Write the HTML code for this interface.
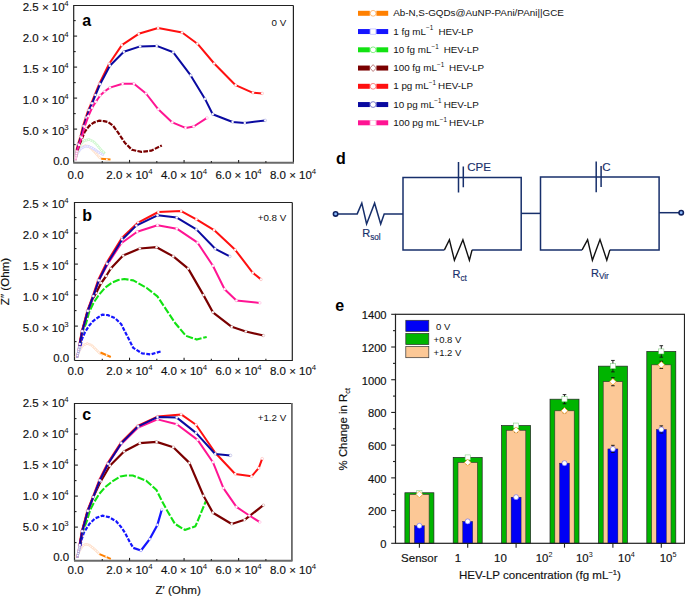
<!DOCTYPE html>
<html><head><meta charset="utf-8"><style>
html,body{margin:0;padding:0;background:#fff;}
svg{display:block;}
text{font-family:"Liberation Sans", sans-serif;stroke-width:0.16px;}
</style></head><body>
<svg width="685" height="596" viewBox="0 0 685 596">
<rect width="685" height="596" fill="#fff"/>
<path d="M73.7 162.7V5.5H293.4" fill="none" stroke="#222" stroke-width="1.2"/>
<path d="M293.4 5.5V162.7" fill="none" stroke="#222" stroke-width="1.2"/>
<path d="M73.2 162.7H294.0" fill="none" stroke="#6a6a6a" stroke-width="1.9"/>
<line x1="73.7" y1="144.60" x2="75.7" y2="144.60" stroke="#222" stroke-width="1.1"/>
<line x1="73.7" y1="129.10" x2="77.10000000000001" y2="129.10" stroke="#222" stroke-width="1.1"/>
<line x1="73.7" y1="113.60" x2="75.7" y2="113.60" stroke="#222" stroke-width="1.1"/>
<line x1="73.7" y1="98.10" x2="77.10000000000001" y2="98.10" stroke="#222" stroke-width="1.1"/>
<line x1="73.7" y1="82.60" x2="75.7" y2="82.60" stroke="#222" stroke-width="1.1"/>
<line x1="73.7" y1="67.10" x2="77.10000000000001" y2="67.10" stroke="#222" stroke-width="1.1"/>
<line x1="73.7" y1="51.60" x2="75.7" y2="51.60" stroke="#222" stroke-width="1.1"/>
<line x1="73.7" y1="36.10" x2="77.10000000000001" y2="36.10" stroke="#222" stroke-width="1.1"/>
<line x1="73.7" y1="20.60" x2="75.7" y2="20.60" stroke="#222" stroke-width="1.1"/>
<line x1="102.27" y1="162.7" x2="102.27" y2="160.89999999999998" stroke="#222" stroke-width="1.1"/>
<line x1="129.54" y1="162.7" x2="129.54" y2="159.89999999999998" stroke="#222" stroke-width="1.1"/>
<line x1="156.81" y1="162.7" x2="156.81" y2="160.89999999999998" stroke="#222" stroke-width="1.1"/>
<line x1="184.08" y1="162.7" x2="184.08" y2="159.89999999999998" stroke="#222" stroke-width="1.1"/>
<line x1="211.35" y1="162.7" x2="211.35" y2="160.89999999999998" stroke="#222" stroke-width="1.1"/>
<line x1="238.62" y1="162.7" x2="238.62" y2="159.89999999999998" stroke="#222" stroke-width="1.1"/>
<line x1="265.89" y1="162.7" x2="265.89" y2="160.89999999999998" stroke="#222" stroke-width="1.1"/>
<text x="64.6" y="10.70" font-size="11.5" text-anchor="end" fill="#111" stroke="#111">2.5 × 10</text><text x="64.2" y="5.80" font-size="7.8" fill="#111">4</text>
<text x="64.6" y="41.70" font-size="11.5" text-anchor="end" fill="#111" stroke="#111">2.0 × 10</text><text x="64.2" y="36.80" font-size="7.8" fill="#111">4</text>
<text x="64.6" y="72.70" font-size="11.5" text-anchor="end" fill="#111" stroke="#111">1.5 × 10</text><text x="64.2" y="67.80" font-size="7.8" fill="#111">4</text>
<text x="64.6" y="103.70" font-size="11.5" text-anchor="end" fill="#111" stroke="#111">1.0 × 10</text><text x="64.2" y="98.80" font-size="7.8" fill="#111">4</text>
<text x="64.6" y="134.70" font-size="11.5" text-anchor="end" fill="#111" stroke="#111">5.0 × 10</text><text x="64.2" y="129.80" font-size="7.8" fill="#111">3</text>
<text x="69.2" y="164.90" font-size="11.5" text-anchor="end" fill="#111" stroke="#111">0.0</text>
<text x="75.6" y="178.50" font-size="11.5" text-anchor="middle" fill="#111" stroke="#111">0.0</text>
<text x="106.34" y="178.50" font-size="11.5" fill="#111" stroke="#111">2.0 × 10</text><text x="148.24" y="173.50" font-size="7.8" fill="#111">4</text>
<text x="160.88" y="178.50" font-size="11.5" fill="#111" stroke="#111">4.0 × 10</text><text x="202.78" y="173.50" font-size="7.8" fill="#111">4</text>
<text x="215.42" y="178.50" font-size="11.5" fill="#111" stroke="#111">6.0 × 10</text><text x="257.32" y="173.50" font-size="7.8" fill="#111">4</text>
<text x="269.96" y="178.50" font-size="11.5" fill="#111" stroke="#111">8.0 × 10</text><text x="311.86" y="173.50" font-size="7.8" fill="#111">4</text>
<text x="82.2" y="25.60" font-size="16" font-weight="bold" fill="#000">a</text>
<text x="286.3" y="25.90" font-size="9.8" text-anchor="end" fill="#111">0 V</text>
<path d="M74.5 360.5V202.5H292.3" fill="none" stroke="#222" stroke-width="1.2"/>
<path d="M292.3 202.5V360.5H74.5" fill="none" stroke="#222" stroke-width="1.2"/>
<line x1="74.5" y1="341.60" x2="76.5" y2="341.60" stroke="#222" stroke-width="1.1"/>
<line x1="74.5" y1="326.10" x2="77.9" y2="326.10" stroke="#222" stroke-width="1.1"/>
<line x1="74.5" y1="310.60" x2="76.5" y2="310.60" stroke="#222" stroke-width="1.1"/>
<line x1="74.5" y1="295.10" x2="77.9" y2="295.10" stroke="#222" stroke-width="1.1"/>
<line x1="74.5" y1="279.60" x2="76.5" y2="279.60" stroke="#222" stroke-width="1.1"/>
<line x1="74.5" y1="264.10" x2="77.9" y2="264.10" stroke="#222" stroke-width="1.1"/>
<line x1="74.5" y1="248.60" x2="76.5" y2="248.60" stroke="#222" stroke-width="1.1"/>
<line x1="74.5" y1="233.10" x2="77.9" y2="233.10" stroke="#222" stroke-width="1.1"/>
<line x1="74.5" y1="217.60" x2="76.5" y2="217.60" stroke="#222" stroke-width="1.1"/>
<line x1="102.27" y1="360.5" x2="102.27" y2="358.7" stroke="#222" stroke-width="1.1"/>
<line x1="129.54" y1="360.5" x2="129.54" y2="357.7" stroke="#222" stroke-width="1.1"/>
<line x1="156.81" y1="360.5" x2="156.81" y2="358.7" stroke="#222" stroke-width="1.1"/>
<line x1="184.08" y1="360.5" x2="184.08" y2="357.7" stroke="#222" stroke-width="1.1"/>
<line x1="211.35" y1="360.5" x2="211.35" y2="358.7" stroke="#222" stroke-width="1.1"/>
<line x1="238.62" y1="360.5" x2="238.62" y2="357.7" stroke="#222" stroke-width="1.1"/>
<line x1="265.89" y1="360.5" x2="265.89" y2="358.7" stroke="#222" stroke-width="1.1"/>
<text x="64.6" y="208.10" font-size="11.5" text-anchor="end" fill="#111" stroke="#111">2.5 × 10</text><text x="64.2" y="203.20" font-size="7.8" fill="#111">4</text>
<text x="64.6" y="239.10" font-size="11.5" text-anchor="end" fill="#111" stroke="#111">2.0 × 10</text><text x="64.2" y="234.20" font-size="7.8" fill="#111">4</text>
<text x="64.6" y="270.10" font-size="11.5" text-anchor="end" fill="#111" stroke="#111">1.5 × 10</text><text x="64.2" y="265.20" font-size="7.8" fill="#111">4</text>
<text x="64.6" y="301.10" font-size="11.5" text-anchor="end" fill="#111" stroke="#111">1.0 × 10</text><text x="64.2" y="296.20" font-size="7.8" fill="#111">4</text>
<text x="64.6" y="332.10" font-size="11.5" text-anchor="end" fill="#111" stroke="#111">5.0 × 10</text><text x="64.2" y="327.20" font-size="7.8" fill="#111">3</text>
<text x="69.2" y="362.30" font-size="11.5" text-anchor="end" fill="#111" stroke="#111">0.0</text>
<text x="75.6" y="375.10" font-size="11.5" text-anchor="middle" fill="#111" stroke="#111">0.0</text>
<text x="106.34" y="375.10" font-size="11.5" fill="#111" stroke="#111">2.0 × 10</text><text x="148.24" y="370.10" font-size="7.8" fill="#111">4</text>
<text x="160.88" y="375.10" font-size="11.5" fill="#111" stroke="#111">4.0 × 10</text><text x="202.78" y="370.10" font-size="7.8" fill="#111">4</text>
<text x="215.42" y="375.10" font-size="11.5" fill="#111" stroke="#111">6.0 × 10</text><text x="257.32" y="370.10" font-size="7.8" fill="#111">4</text>
<text x="269.96" y="375.10" font-size="11.5" fill="#111" stroke="#111">8.0 × 10</text><text x="311.86" y="370.10" font-size="7.8" fill="#111">4</text>
<text x="82.2" y="220.70" font-size="16" font-weight="bold" fill="#000">b</text>
<text x="286.3" y="221.00" font-size="9.8" text-anchor="end" fill="#111">+0.8 V</text>
<path d="M74.5 560.7V403.5H291.9" fill="none" stroke="#222" stroke-width="1.2"/>
<path d="M291.9 402.9V560.7" fill="none" stroke="#6a6a6a" stroke-width="1.8"/>
<path d="M74.0 560.7H292.5" fill="none" stroke="#6a6a6a" stroke-width="1.9"/>
<line x1="74.5" y1="542.60" x2="76.5" y2="542.60" stroke="#222" stroke-width="1.1"/>
<line x1="74.5" y1="527.10" x2="77.9" y2="527.10" stroke="#222" stroke-width="1.1"/>
<line x1="74.5" y1="511.60" x2="76.5" y2="511.60" stroke="#222" stroke-width="1.1"/>
<line x1="74.5" y1="496.10" x2="77.9" y2="496.10" stroke="#222" stroke-width="1.1"/>
<line x1="74.5" y1="480.60" x2="76.5" y2="480.60" stroke="#222" stroke-width="1.1"/>
<line x1="74.5" y1="465.10" x2="77.9" y2="465.10" stroke="#222" stroke-width="1.1"/>
<line x1="74.5" y1="449.60" x2="76.5" y2="449.60" stroke="#222" stroke-width="1.1"/>
<line x1="74.5" y1="434.10" x2="77.9" y2="434.10" stroke="#222" stroke-width="1.1"/>
<line x1="74.5" y1="418.60" x2="76.5" y2="418.60" stroke="#222" stroke-width="1.1"/>
<line x1="102.27" y1="560.7" x2="102.27" y2="558.9000000000001" stroke="#222" stroke-width="1.1"/>
<line x1="129.54" y1="560.7" x2="129.54" y2="557.9000000000001" stroke="#222" stroke-width="1.1"/>
<line x1="156.81" y1="560.7" x2="156.81" y2="558.9000000000001" stroke="#222" stroke-width="1.1"/>
<line x1="184.08" y1="560.7" x2="184.08" y2="557.9000000000001" stroke="#222" stroke-width="1.1"/>
<line x1="211.35" y1="560.7" x2="211.35" y2="558.9000000000001" stroke="#222" stroke-width="1.1"/>
<line x1="238.62" y1="560.7" x2="238.62" y2="557.9000000000001" stroke="#222" stroke-width="1.1"/>
<line x1="265.89" y1="560.7" x2="265.89" y2="558.9000000000001" stroke="#222" stroke-width="1.1"/>
<text x="64.6" y="407.10" font-size="11.5" text-anchor="end" fill="#111" stroke="#111">2.5 × 10</text><text x="64.2" y="402.20" font-size="7.8" fill="#111">4</text>
<text x="64.6" y="438.10" font-size="11.5" text-anchor="end" fill="#111" stroke="#111">2.0 × 10</text><text x="64.2" y="433.20" font-size="7.8" fill="#111">4</text>
<text x="64.6" y="469.10" font-size="11.5" text-anchor="end" fill="#111" stroke="#111">1.5 × 10</text><text x="64.2" y="464.20" font-size="7.8" fill="#111">4</text>
<text x="64.6" y="500.10" font-size="11.5" text-anchor="end" fill="#111" stroke="#111">1.0 × 10</text><text x="64.2" y="495.20" font-size="7.8" fill="#111">4</text>
<text x="64.6" y="531.10" font-size="11.5" text-anchor="end" fill="#111" stroke="#111">5.0 × 10</text><text x="64.2" y="526.20" font-size="7.8" fill="#111">3</text>
<text x="69.2" y="561.30" font-size="11.5" text-anchor="end" fill="#111" stroke="#111">0.0</text>
<text x="75.6" y="573.90" font-size="11.5" text-anchor="middle" fill="#111" stroke="#111">0.0</text>
<text x="106.34" y="573.90" font-size="11.5" fill="#111" stroke="#111">2.0 × 10</text><text x="148.24" y="568.90" font-size="7.8" fill="#111">4</text>
<text x="160.88" y="573.90" font-size="11.5" fill="#111" stroke="#111">4.0 × 10</text><text x="202.78" y="568.90" font-size="7.8" fill="#111">4</text>
<text x="215.42" y="573.90" font-size="11.5" fill="#111" stroke="#111">6.0 × 10</text><text x="257.32" y="568.90" font-size="7.8" fill="#111">4</text>
<text x="269.96" y="573.90" font-size="11.5" fill="#111" stroke="#111">8.0 × 10</text><text x="311.86" y="568.90" font-size="7.8" fill="#111">4</text>
<text x="82.2" y="420.40" font-size="16" font-weight="bold" fill="#000">c</text>
<text x="286.3" y="420.70" font-size="9.8" text-anchor="end" fill="#111">+1.2 V</text>
<text transform="translate(8.9,281.5) rotate(-90)" font-size="11.6" text-anchor="middle" fill="#111" stroke="#111">Z″ (Ohm)</text>
<text x="178.2" y="594" font-size="11.6" text-anchor="middle" fill="#111" stroke="#111">Z′ (Ohm)</text>
<path d="M75.0 160.0 L76.5 155.0 L78.5 150.5 L81.5 147.3 L85.3 145.6 L88.5 146.3 L92.0 149.2 L96.0 153.5 L99.0 157.0 L101.2 158.8" fill="none" stroke="#ffe3d0" stroke-width="2.3" stroke-linejoin="round" opacity="1.0"/>
<circle cx="75.6" cy="158.0" r="0.95" fill="#fff" stroke="#ffd6ba" stroke-width="0.5"/>
<circle cx="76.2" cy="156.0" r="0.95" fill="#fff" stroke="#ffd6ba" stroke-width="0.5"/>
<circle cx="76.9" cy="154.0" r="0.95" fill="#fff" stroke="#ffd6ba" stroke-width="0.5"/>
<circle cx="77.8" cy="152.1" r="0.95" fill="#fff" stroke="#ffd6ba" stroke-width="0.5"/>
<circle cx="78.7" cy="150.2" r="0.95" fill="#fff" stroke="#ffd6ba" stroke-width="0.5"/>
<circle cx="80.2" cy="148.7" r="0.95" fill="#fff" stroke="#ffd6ba" stroke-width="0.5"/>
<circle cx="81.7" cy="147.2" r="0.95" fill="#fff" stroke="#ffd6ba" stroke-width="0.5"/>
<circle cx="83.6" cy="146.4" r="0.95" fill="#fff" stroke="#ffd6ba" stroke-width="0.5"/>
<circle cx="85.5" cy="145.6" r="0.95" fill="#fff" stroke="#ffd6ba" stroke-width="0.5"/>
<circle cx="87.6" cy="146.1" r="0.95" fill="#fff" stroke="#ffd6ba" stroke-width="0.5"/>
<circle cx="89.4" cy="147.0" r="0.95" fill="#fff" stroke="#ffd6ba" stroke-width="0.5"/>
<circle cx="91.0" cy="148.4" r="0.95" fill="#fff" stroke="#ffd6ba" stroke-width="0.5"/>
<circle cx="92.5" cy="149.8" r="0.95" fill="#fff" stroke="#ffd6ba" stroke-width="0.5"/>
<circle cx="94.0" cy="151.3" r="0.95" fill="#fff" stroke="#ffd6ba" stroke-width="0.5"/>
<circle cx="95.4" cy="152.9" r="0.95" fill="#fff" stroke="#ffd6ba" stroke-width="0.5"/>
<circle cx="96.8" cy="154.4" r="0.95" fill="#fff" stroke="#ffd6ba" stroke-width="0.5"/>
<circle cx="98.2" cy="156.0" r="0.95" fill="#fff" stroke="#ffd6ba" stroke-width="0.5"/>
<circle cx="99.6" cy="157.5" r="0.95" fill="#fff" stroke="#ffd6ba" stroke-width="0.5"/>
<path d="M75.0 160.0 L77.5 153.0 L81.0 148.5 L84.5 146.6 L87.5 146.2 L91.0 147.3 L95.0 149.8 L99.5 152.8 L103.8 155.3" fill="none" stroke="#d4d4ff" stroke-width="2.4" stroke-linejoin="round" opacity="1.0"/>
<circle cx="75.7" cy="157.9" r="0.9" fill="#fff" stroke="#d0d0ff" stroke-width="0.5"/>
<circle cx="76.5" cy="155.9" r="0.9" fill="#fff" stroke="#d0d0ff" stroke-width="0.5"/>
<circle cx="77.2" cy="153.8" r="0.9" fill="#fff" stroke="#d0d0ff" stroke-width="0.5"/>
<circle cx="78.3" cy="151.9" r="0.9" fill="#fff" stroke="#d0d0ff" stroke-width="0.5"/>
<circle cx="79.7" cy="150.2" r="0.9" fill="#fff" stroke="#d0d0ff" stroke-width="0.5"/>
<circle cx="81.1" cy="148.5" r="0.9" fill="#fff" stroke="#d0d0ff" stroke-width="0.5"/>
<circle cx="83.0" cy="147.4" r="0.9" fill="#fff" stroke="#d0d0ff" stroke-width="0.5"/>
<circle cx="85.0" cy="146.5" r="0.9" fill="#fff" stroke="#d0d0ff" stroke-width="0.5"/>
<circle cx="87.2" cy="146.2" r="0.9" fill="#fff" stroke="#d0d0ff" stroke-width="0.5"/>
<circle cx="89.3" cy="146.8" r="0.9" fill="#fff" stroke="#d0d0ff" stroke-width="0.5"/>
<circle cx="91.3" cy="147.5" r="0.9" fill="#fff" stroke="#d0d0ff" stroke-width="0.5"/>
<circle cx="93.2" cy="148.7" r="0.9" fill="#fff" stroke="#d0d0ff" stroke-width="0.5"/>
<circle cx="95.1" cy="149.8" r="0.9" fill="#fff" stroke="#d0d0ff" stroke-width="0.5"/>
<circle cx="96.9" cy="151.1" r="0.9" fill="#fff" stroke="#d0d0ff" stroke-width="0.5"/>
<circle cx="98.7" cy="152.3" r="0.9" fill="#fff" stroke="#d0d0ff" stroke-width="0.5"/>
<circle cx="100.6" cy="153.4" r="0.9" fill="#fff" stroke="#d0d0ff" stroke-width="0.5"/>
<circle cx="102.5" cy="154.5" r="0.9" fill="#fff" stroke="#d0d0ff" stroke-width="0.5"/>
<path d="M75.0 160.0 L77.5 151.0 L80.5 144.5 L84.5 140.5 L89.3 139.5 L93.5 141.5 L97.5 145.5 L101.5 150.5 L105.0 153.4" fill="none" stroke="#c8f7c8" stroke-width="2.4" stroke-linejoin="round" opacity="1.0"/>
<circle cx="75.6" cy="157.9" r="0.9" fill="#fff" stroke="#c8f5c8" stroke-width="0.5"/>
<circle cx="76.2" cy="155.8" r="0.9" fill="#fff" stroke="#c8f5c8" stroke-width="0.5"/>
<circle cx="76.8" cy="153.6" r="0.9" fill="#fff" stroke="#c8f5c8" stroke-width="0.5"/>
<circle cx="77.4" cy="151.5" r="0.9" fill="#fff" stroke="#c8f5c8" stroke-width="0.5"/>
<circle cx="78.2" cy="149.5" r="0.9" fill="#fff" stroke="#c8f5c8" stroke-width="0.5"/>
<circle cx="79.1" cy="147.5" r="0.9" fill="#fff" stroke="#c8f5c8" stroke-width="0.5"/>
<circle cx="80.0" cy="145.5" r="0.9" fill="#fff" stroke="#c8f5c8" stroke-width="0.5"/>
<circle cx="81.3" cy="143.7" r="0.9" fill="#fff" stroke="#c8f5c8" stroke-width="0.5"/>
<circle cx="82.8" cy="142.2" r="0.9" fill="#fff" stroke="#c8f5c8" stroke-width="0.5"/>
<circle cx="84.4" cy="140.6" r="0.9" fill="#fff" stroke="#c8f5c8" stroke-width="0.5"/>
<circle cx="86.5" cy="140.1" r="0.9" fill="#fff" stroke="#c8f5c8" stroke-width="0.5"/>
<circle cx="88.7" cy="139.6" r="0.9" fill="#fff" stroke="#c8f5c8" stroke-width="0.5"/>
<circle cx="90.7" cy="140.2" r="0.9" fill="#fff" stroke="#c8f5c8" stroke-width="0.5"/>
<circle cx="92.7" cy="141.1" r="0.9" fill="#fff" stroke="#c8f5c8" stroke-width="0.5"/>
<circle cx="94.4" cy="142.4" r="0.9" fill="#fff" stroke="#c8f5c8" stroke-width="0.5"/>
<circle cx="96.0" cy="144.0" r="0.9" fill="#fff" stroke="#c8f5c8" stroke-width="0.5"/>
<circle cx="97.5" cy="145.5" r="0.9" fill="#fff" stroke="#c8f5c8" stroke-width="0.5"/>
<circle cx="98.9" cy="147.2" r="0.9" fill="#fff" stroke="#c8f5c8" stroke-width="0.5"/>
<circle cx="100.3" cy="149.0" r="0.9" fill="#fff" stroke="#c8f5c8" stroke-width="0.5"/>
<circle cx="101.7" cy="150.6" r="0.9" fill="#fff" stroke="#c8f5c8" stroke-width="0.5"/>
<circle cx="103.4" cy="152.0" r="0.9" fill="#fff" stroke="#c8f5c8" stroke-width="0.5"/>
<path d="M75.6 160.1 L77.3 151.5 L77.7 150.1" fill="none" stroke="#cc9e9e" stroke-width="2.1"/>
<circle cx="76.0" cy="157.9" r="0.75" fill="#fff"/>
<circle cx="76.5" cy="155.8" r="0.75" fill="#fff"/>
<circle cx="76.9" cy="153.6" r="0.75" fill="#fff"/>
<circle cx="77.3" cy="151.5" r="0.75" fill="#fff"/>
<path d="M77.7 150.1 L79.5 144.5 L81.6 139.6 L84.6 132.0 L89.1 126.0 L93.7 122.6 L98.9 120.7 L103.9 121.1 L108.0 122.0 L113.0 125.6 L117.8 132.2 L124.8 142.7 L131.9 149.8 L141.5 151.9 L151.2 150.7 L161.8 145.4" fill="none" stroke="#7a0000" stroke-width="2.2" stroke-linejoin="round" stroke-dasharray="4.70 1.3" stroke-dashoffset="0" opacity="1.0"/>
<path d="M75.6 160.1 L76.0 152.0 L76.5 150.1" fill="none" stroke="#ffa4a4" stroke-width="2.1"/>
<circle cx="75.7" cy="157.9" r="0.75" fill="#fff"/>
<circle cx="75.8" cy="155.7" r="0.75" fill="#fff"/>
<circle cx="75.9" cy="153.5" r="0.75" fill="#fff"/>
<circle cx="76.2" cy="151.3" r="0.75" fill="#fff"/>
<path d="M76.5 150.1 L78.1 144.0 L80.5 136.6 L83.0 126.0 L85.7 117.7 L88.3 110.1 L91.3 103.3 L94.8 95.0 L99.5 83.5 L109.2 63.7 L121.8 45.1 L138.7 33.8 L158.1 28.0 L182.1 32.5 L197.4 43.7 L214.2 63.5 L235.6 85.2 L253.0 92.8 L262.2 93.4" fill="none" stroke="#ff1010" stroke-width="2.0" stroke-linejoin="round" opacity="1.0"/>
<circle cx="78.1" cy="144.0" r="1.35" fill="#fff" stroke="#ff1010" stroke-width="0.5" stroke-opacity="0.35"/>
<circle cx="80.5" cy="136.6" r="1.35" fill="#fff" stroke="#ff1010" stroke-width="0.5" stroke-opacity="0.35"/>
<circle cx="83.0" cy="126.0" r="1.35" fill="#fff" stroke="#ff1010" stroke-width="0.5" stroke-opacity="0.35"/>
<circle cx="85.7" cy="117.7" r="1.35" fill="#fff" stroke="#ff1010" stroke-width="0.5" stroke-opacity="0.35"/>
<circle cx="88.3" cy="110.1" r="1.35" fill="#fff" stroke="#ff1010" stroke-width="0.5" stroke-opacity="0.35"/>
<circle cx="91.3" cy="103.3" r="1.35" fill="#fff" stroke="#ff1010" stroke-width="0.5" stroke-opacity="0.35"/>
<circle cx="94.8" cy="95.0" r="1.35" fill="#fff" stroke="#ff1010" stroke-width="0.5" stroke-opacity="0.35"/>
<circle cx="99.5" cy="83.5" r="1.35" fill="#fff" stroke="#ff1010" stroke-width="0.5" stroke-opacity="0.35"/>
<circle cx="109.2" cy="63.7" r="1.35" fill="#fff" stroke="#ff1010" stroke-width="0.5" stroke-opacity="0.35"/>
<circle cx="121.8" cy="45.1" r="1.35" fill="#fff" stroke="#ff1010" stroke-width="0.5" stroke-opacity="0.35"/>
<circle cx="138.7" cy="33.8" r="1.35" fill="#fff" stroke="#ff1010" stroke-width="0.5" stroke-opacity="0.35"/>
<circle cx="158.1" cy="28.0" r="1.35" fill="#fff" stroke="#ff1010" stroke-width="0.5" stroke-opacity="0.35"/>
<circle cx="182.1" cy="32.5" r="1.35" fill="#fff" stroke="#ff1010" stroke-width="0.5" stroke-opacity="0.35"/>
<circle cx="197.4" cy="43.7" r="1.35" fill="#fff" stroke="#ff1010" stroke-width="0.5" stroke-opacity="0.35"/>
<circle cx="214.2" cy="63.5" r="1.35" fill="#fff" stroke="#ff1010" stroke-width="0.5" stroke-opacity="0.35"/>
<circle cx="235.6" cy="85.2" r="1.35" fill="#fff" stroke="#ff1010" stroke-width="0.5" stroke-opacity="0.35"/>
<circle cx="253.0" cy="92.8" r="1.35" fill="#fff" stroke="#ff1010" stroke-width="0.5" stroke-opacity="0.35"/>
<circle cx="262.2" cy="93.4" r="1.35" fill="#fff" stroke="#ff1010" stroke-width="0.5" stroke-opacity="0.35"/>
<path d="M75.6 160.1 L76.6 152.0 L77.1 150.1" fill="none" stroke="#a1a1da" stroke-width="2.1"/>
<circle cx="75.9" cy="157.9" r="0.75" fill="#fff"/>
<circle cx="76.1" cy="155.7" r="0.75" fill="#fff"/>
<circle cx="76.4" cy="153.5" r="0.75" fill="#fff"/>
<circle cx="76.8" cy="151.4" r="0.75" fill="#fff"/>
<path d="M77.1 150.1 L78.8 144.0 L81.2 136.6 L83.8 126.0 L86.5 117.7 L89.1 110.1 L92.1 103.3 L95.5 95.0 L100.1 84.2 L109.9 65.7 L123.8 51.8 L140.1 46.4 L156.7 45.9 L173.3 52.3 L190.7 75.4 L205.0 98.9 L212.7 114.2 L232.6 122.0 L244.8 123.0 L265.2 120.4" fill="none" stroke="#0a0aa0" stroke-width="2.0" stroke-linejoin="round" opacity="1.0"/>
<circle cx="78.8" cy="144.0" r="1.35" fill="#fff" stroke="#0a0aa0" stroke-width="0.5" stroke-opacity="0.35"/>
<circle cx="81.2" cy="136.6" r="1.35" fill="#fff" stroke="#0a0aa0" stroke-width="0.5" stroke-opacity="0.35"/>
<circle cx="83.8" cy="126.0" r="1.35" fill="#fff" stroke="#0a0aa0" stroke-width="0.5" stroke-opacity="0.35"/>
<circle cx="86.5" cy="117.7" r="1.35" fill="#fff" stroke="#0a0aa0" stroke-width="0.5" stroke-opacity="0.35"/>
<circle cx="89.1" cy="110.1" r="1.35" fill="#fff" stroke="#0a0aa0" stroke-width="0.5" stroke-opacity="0.35"/>
<circle cx="92.1" cy="103.3" r="1.35" fill="#fff" stroke="#0a0aa0" stroke-width="0.5" stroke-opacity="0.35"/>
<circle cx="95.5" cy="95.0" r="1.35" fill="#fff" stroke="#0a0aa0" stroke-width="0.5" stroke-opacity="0.35"/>
<circle cx="100.1" cy="84.2" r="1.35" fill="#fff" stroke="#0a0aa0" stroke-width="0.5" stroke-opacity="0.35"/>
<circle cx="109.9" cy="65.7" r="1.35" fill="#fff" stroke="#0a0aa0" stroke-width="0.5" stroke-opacity="0.35"/>
<circle cx="123.8" cy="51.8" r="1.35" fill="#fff" stroke="#0a0aa0" stroke-width="0.5" stroke-opacity="0.35"/>
<circle cx="140.1" cy="46.4" r="1.35" fill="#fff" stroke="#0a0aa0" stroke-width="0.5" stroke-opacity="0.35"/>
<circle cx="156.7" cy="45.9" r="1.35" fill="#fff" stroke="#0a0aa0" stroke-width="0.5" stroke-opacity="0.35"/>
<circle cx="173.3" cy="52.3" r="1.35" fill="#fff" stroke="#0a0aa0" stroke-width="0.5" stroke-opacity="0.35"/>
<circle cx="190.7" cy="75.4" r="1.35" fill="#fff" stroke="#0a0aa0" stroke-width="0.5" stroke-opacity="0.35"/>
<circle cx="205.0" cy="98.9" r="1.35" fill="#fff" stroke="#0a0aa0" stroke-width="0.5" stroke-opacity="0.35"/>
<circle cx="212.7" cy="114.2" r="1.35" fill="#fff" stroke="#0a0aa0" stroke-width="0.5" stroke-opacity="0.35"/>
<circle cx="232.6" cy="122.0" r="1.35" fill="#fff" stroke="#0a0aa0" stroke-width="0.5" stroke-opacity="0.35"/>
<circle cx="244.8" cy="123.0" r="1.35" fill="#fff" stroke="#0a0aa0" stroke-width="0.5" stroke-opacity="0.35"/>
<circle cx="265.2" cy="120.4" r="1.35" fill="#fff" stroke="#0a0aa0" stroke-width="0.5" stroke-opacity="0.35"/>
<path d="M75.6 160.1 L76.8 152.0 L77.4 150.1" fill="none" stroke="#ffa5d5" stroke-width="2.1"/>
<circle cx="75.9" cy="157.9" r="0.75" fill="#fff"/>
<circle cx="76.2" cy="155.7" r="0.75" fill="#fff"/>
<circle cx="76.6" cy="153.6" r="0.75" fill="#fff"/>
<circle cx="77.0" cy="151.4" r="0.75" fill="#fff"/>
<path d="M77.4 150.1 L79.0 145.0 L81.6 137.5 L84.6 126.7 L88.4 116.2 L92.1 107.8 L95.9 101.8 L100.2 95.5 L104.5 91.5 L109.9 87.6 L122.6 83.8 L134.0 83.8 L146.0 93.5 L158.3 109.3 L172.3 122.4 L185.5 127.9 L193.7 126.5 L207.0 117.9" fill="none" stroke="#ff1493" stroke-width="2.0" stroke-linejoin="round" opacity="1.0"/>
<circle cx="79.0" cy="145.0" r="1.35" fill="#fff" stroke="#ff1493" stroke-width="0.5" stroke-opacity="0.35"/>
<circle cx="81.6" cy="137.5" r="1.35" fill="#fff" stroke="#ff1493" stroke-width="0.5" stroke-opacity="0.35"/>
<circle cx="84.6" cy="126.7" r="1.35" fill="#fff" stroke="#ff1493" stroke-width="0.5" stroke-opacity="0.35"/>
<circle cx="88.4" cy="116.2" r="1.35" fill="#fff" stroke="#ff1493" stroke-width="0.5" stroke-opacity="0.35"/>
<circle cx="92.1" cy="107.8" r="1.35" fill="#fff" stroke="#ff1493" stroke-width="0.5" stroke-opacity="0.35"/>
<circle cx="95.9" cy="101.8" r="1.35" fill="#fff" stroke="#ff1493" stroke-width="0.5" stroke-opacity="0.35"/>
<circle cx="100.2" cy="95.5" r="1.35" fill="#fff" stroke="#ff1493" stroke-width="0.5" stroke-opacity="0.35"/>
<circle cx="104.5" cy="91.5" r="1.35" fill="#fff" stroke="#ff1493" stroke-width="0.5" stroke-opacity="0.35"/>
<circle cx="109.9" cy="87.6" r="1.35" fill="#fff" stroke="#ff1493" stroke-width="0.5" stroke-opacity="0.35"/>
<circle cx="122.6" cy="83.8" r="1.35" fill="#fff" stroke="#ff1493" stroke-width="0.5" stroke-opacity="0.35"/>
<circle cx="134.0" cy="83.8" r="1.35" fill="#fff" stroke="#ff1493" stroke-width="0.5" stroke-opacity="0.35"/>
<circle cx="146.0" cy="93.5" r="1.35" fill="#fff" stroke="#ff1493" stroke-width="0.5" stroke-opacity="0.35"/>
<circle cx="158.3" cy="109.3" r="1.35" fill="#fff" stroke="#ff1493" stroke-width="0.5" stroke-opacity="0.35"/>
<circle cx="172.3" cy="122.4" r="1.35" fill="#fff" stroke="#ff1493" stroke-width="0.5" stroke-opacity="0.35"/>
<circle cx="185.5" cy="127.9" r="1.35" fill="#fff" stroke="#ff1493" stroke-width="0.5" stroke-opacity="0.35"/>
<circle cx="193.7" cy="126.5" r="1.35" fill="#fff" stroke="#ff1493" stroke-width="0.5" stroke-opacity="0.35"/>
<circle cx="207.0" cy="117.9" r="1.35" fill="#fff" stroke="#ff1493" stroke-width="0.5" stroke-opacity="0.35"/>
<path d="M75.5 357.5 L77.3 355.0 L79.9 349.8 L82.9 345.3 L87.3 343.5 L91.7 345.3 L96.2 349.8 L99.1 352.7 L102.1 354.6" fill="none" stroke="#ffe3d0" stroke-width="2.3" stroke-linejoin="round" opacity="1.0"/>
<circle cx="76.7" cy="355.8" r="0.95" fill="#fff" stroke="#ffd6ba" stroke-width="0.5"/>
<circle cx="77.8" cy="354.0" r="0.95" fill="#fff" stroke="#ffd6ba" stroke-width="0.5"/>
<circle cx="78.7" cy="352.1" r="0.95" fill="#fff" stroke="#ffd6ba" stroke-width="0.5"/>
<circle cx="79.7" cy="350.2" r="0.95" fill="#fff" stroke="#ffd6ba" stroke-width="0.5"/>
<circle cx="80.8" cy="348.5" r="0.95" fill="#fff" stroke="#ffd6ba" stroke-width="0.5"/>
<circle cx="82.0" cy="346.7" r="0.95" fill="#fff" stroke="#ffd6ba" stroke-width="0.5"/>
<circle cx="83.3" cy="345.1" r="0.95" fill="#fff" stroke="#ffd6ba" stroke-width="0.5"/>
<circle cx="85.2" cy="344.4" r="0.95" fill="#fff" stroke="#ffd6ba" stroke-width="0.5"/>
<circle cx="87.2" cy="343.6" r="0.95" fill="#fff" stroke="#ffd6ba" stroke-width="0.5"/>
<circle cx="89.1" cy="344.2" r="0.95" fill="#fff" stroke="#ffd6ba" stroke-width="0.5"/>
<circle cx="91.0" cy="345.0" r="0.95" fill="#fff" stroke="#ffd6ba" stroke-width="0.5"/>
<circle cx="92.7" cy="346.3" r="0.95" fill="#fff" stroke="#ffd6ba" stroke-width="0.5"/>
<circle cx="94.2" cy="347.8" r="0.95" fill="#fff" stroke="#ffd6ba" stroke-width="0.5"/>
<circle cx="95.7" cy="349.3" r="0.95" fill="#fff" stroke="#ffd6ba" stroke-width="0.5"/>
<circle cx="97.1" cy="350.7" r="0.95" fill="#fff" stroke="#ffd6ba" stroke-width="0.5"/>
<circle cx="98.6" cy="352.2" r="0.95" fill="#fff" stroke="#ffd6ba" stroke-width="0.5"/>
<circle cx="100.3" cy="353.5" r="0.95" fill="#fff" stroke="#ffd6ba" stroke-width="0.5"/>
<circle cx="102.1" cy="354.6" r="0.95" fill="#fff" stroke="#ffd6ba" stroke-width="0.5"/>
<path d="M77.0 357.8 L78.5 353.0 L80.2 347.6 L80.6 345.8" fill="none" stroke="#a6a6ff" stroke-width="2.1"/>
<circle cx="77.7" cy="355.7" r="0.75" fill="#fff"/>
<circle cx="78.3" cy="353.6" r="0.75" fill="#fff"/>
<circle cx="79.0" cy="351.5" r="0.75" fill="#fff"/>
<circle cx="79.6" cy="349.4" r="0.75" fill="#fff"/>
<circle cx="80.3" cy="347.3" r="0.75" fill="#fff"/>
<path d="M80.6 345.8 L82.1 338.7 L85.1 332.0 L88.8 326.1 L92.5 321.7 L96.2 318.7 L102.2 314.7 L108.2 315.2 L115.2 318.3 L121.3 324.3 L125.3 332.3 L129.5 340.5 L133.3 347.9 L142.1 353.4 L150.8 354.4 L161.8 351.2" fill="none" stroke="#1515ff" stroke-width="2.2" stroke-linejoin="round" stroke-dasharray="3.90 1.5" stroke-dashoffset="0" opacity="1.0"/>
<path d="M77.0 357.8 L79.8 346.0 L79.8 345.8" fill="none" stroke="#a4f3a4" stroke-width="2.1"/>
<circle cx="77.5" cy="355.7" r="0.75" fill="#fff"/>
<circle cx="78.0" cy="353.5" r="0.75" fill="#fff"/>
<circle cx="78.5" cy="351.4" r="0.75" fill="#fff"/>
<circle cx="79.0" cy="349.2" r="0.75" fill="#fff"/>
<circle cx="79.5" cy="347.1" r="0.75" fill="#fff"/>
<path d="M79.8 345.8 L81.2 336.0 L83.8 328.5 L86.1 323.3 L89.1 312.2 L93.6 302.7 L99.1 294.6 L105.2 287.6 L112.2 282.5 L118.3 280.0 L124.3 279.0 L133.3 280.4 L146.4 287.7 L157.4 296.4 L166.2 309.6 L174.9 322.7 L185.9 335.8 L196.8 339.6 L206.7 336.9" fill="none" stroke="#12e212" stroke-width="2.1" stroke-linejoin="round" stroke-dasharray="7.20 1.8" stroke-dashoffset="-2" opacity="1.0"/>
<path d="M77.0 357.8 L79.4 345.8" fill="none" stroke="#cc9e9e" stroke-width="2.1"/>
<circle cx="77.4" cy="355.6" r="0.75" fill="#fff"/>
<circle cx="77.9" cy="353.5" r="0.75" fill="#fff"/>
<circle cx="78.3" cy="351.3" r="0.75" fill="#fff"/>
<circle cx="78.7" cy="349.2" r="0.75" fill="#fff"/>
<circle cx="79.2" cy="347.0" r="0.75" fill="#fff"/>
<path d="M79.4 345.8 L79.8 344.0 L82.2 331.2 L87.8 310.9 L92.0 300.0 L96.1 293.1 L101.2 283.0 L106.2 276.0 L110.8 268.5 L123.1 255.6 L139.8 248.5 L156.6 247.2 L173.3 256.4 L188.2 268.6 L203.5 295.1 L212.9 312.3 L231.7 326.8 L245.8 331.5 L263.4 335.5" fill="none" stroke="#7a0000" stroke-width="2.2" stroke-linejoin="round" opacity="1.0"/>
<circle cx="79.8" cy="344.0" r="1.35" fill="#fff" stroke="#7a0000" stroke-width="0.5" stroke-opacity="0.35"/>
<circle cx="82.2" cy="331.2" r="1.35" fill="#fff" stroke="#7a0000" stroke-width="0.5" stroke-opacity="0.35"/>
<circle cx="87.8" cy="310.9" r="1.35" fill="#fff" stroke="#7a0000" stroke-width="0.5" stroke-opacity="0.35"/>
<circle cx="92.0" cy="300.0" r="1.35" fill="#fff" stroke="#7a0000" stroke-width="0.5" stroke-opacity="0.35"/>
<circle cx="96.1" cy="293.1" r="1.35" fill="#fff" stroke="#7a0000" stroke-width="0.5" stroke-opacity="0.35"/>
<circle cx="101.2" cy="283.0" r="1.35" fill="#fff" stroke="#7a0000" stroke-width="0.5" stroke-opacity="0.35"/>
<circle cx="106.2" cy="276.0" r="1.35" fill="#fff" stroke="#7a0000" stroke-width="0.5" stroke-opacity="0.35"/>
<circle cx="110.8" cy="268.5" r="1.35" fill="#fff" stroke="#7a0000" stroke-width="0.5" stroke-opacity="0.35"/>
<circle cx="123.1" cy="255.6" r="1.35" fill="#fff" stroke="#7a0000" stroke-width="0.5" stroke-opacity="0.35"/>
<circle cx="139.8" cy="248.5" r="1.35" fill="#fff" stroke="#7a0000" stroke-width="0.5" stroke-opacity="0.35"/>
<circle cx="156.6" cy="247.2" r="1.35" fill="#fff" stroke="#7a0000" stroke-width="0.5" stroke-opacity="0.35"/>
<circle cx="173.3" cy="256.4" r="1.35" fill="#fff" stroke="#7a0000" stroke-width="0.5" stroke-opacity="0.35"/>
<circle cx="188.2" cy="268.6" r="1.35" fill="#fff" stroke="#7a0000" stroke-width="0.5" stroke-opacity="0.35"/>
<circle cx="203.5" cy="295.1" r="1.35" fill="#fff" stroke="#7a0000" stroke-width="0.5" stroke-opacity="0.35"/>
<circle cx="212.9" cy="312.3" r="1.35" fill="#fff" stroke="#7a0000" stroke-width="0.5" stroke-opacity="0.35"/>
<circle cx="231.7" cy="326.8" r="1.35" fill="#fff" stroke="#7a0000" stroke-width="0.5" stroke-opacity="0.35"/>
<circle cx="245.8" cy="331.5" r="1.35" fill="#fff" stroke="#7a0000" stroke-width="0.5" stroke-opacity="0.35"/>
<circle cx="263.4" cy="335.5" r="1.35" fill="#fff" stroke="#7a0000" stroke-width="0.5" stroke-opacity="0.35"/>
<path d="M77.0 357.8 L79.2 345.8" fill="none" stroke="#ffa4a4" stroke-width="2.1"/>
<circle cx="77.4" cy="355.6" r="0.75" fill="#fff"/>
<circle cx="77.8" cy="353.5" r="0.75" fill="#fff"/>
<circle cx="78.2" cy="351.3" r="0.75" fill="#fff"/>
<circle cx="78.6" cy="349.1" r="0.75" fill="#fff"/>
<circle cx="79.0" cy="347.0" r="0.75" fill="#fff"/>
<path d="M79.2 345.8 L79.5 344.0 L81.8 331.2 L87.3 310.9 L92.8 296.1 L98.2 280.0 L106.6 262.8 L121.8 237.9 L138.1 222.6 L158.3 212.0 L181.2 211.1 L196.4 219.3 L214.1 230.1 L235.2 249.8 L252.8 272.8 L261.0 279.4" fill="none" stroke="#ff1010" stroke-width="2.0" stroke-linejoin="round" opacity="1.0"/>
<circle cx="79.5" cy="344.0" r="1.35" fill="#fff" stroke="#ff1010" stroke-width="0.5" stroke-opacity="0.35"/>
<circle cx="81.8" cy="331.2" r="1.35" fill="#fff" stroke="#ff1010" stroke-width="0.5" stroke-opacity="0.35"/>
<circle cx="87.3" cy="310.9" r="1.35" fill="#fff" stroke="#ff1010" stroke-width="0.5" stroke-opacity="0.35"/>
<circle cx="92.8" cy="296.1" r="1.35" fill="#fff" stroke="#ff1010" stroke-width="0.5" stroke-opacity="0.35"/>
<circle cx="98.2" cy="280.0" r="1.35" fill="#fff" stroke="#ff1010" stroke-width="0.5" stroke-opacity="0.35"/>
<circle cx="106.6" cy="262.8" r="1.35" fill="#fff" stroke="#ff1010" stroke-width="0.5" stroke-opacity="0.35"/>
<circle cx="121.8" cy="237.9" r="1.35" fill="#fff" stroke="#ff1010" stroke-width="0.5" stroke-opacity="0.35"/>
<circle cx="138.1" cy="222.6" r="1.35" fill="#fff" stroke="#ff1010" stroke-width="0.5" stroke-opacity="0.35"/>
<circle cx="158.3" cy="212.0" r="1.35" fill="#fff" stroke="#ff1010" stroke-width="0.5" stroke-opacity="0.35"/>
<circle cx="181.2" cy="211.1" r="1.35" fill="#fff" stroke="#ff1010" stroke-width="0.5" stroke-opacity="0.35"/>
<circle cx="196.4" cy="219.3" r="1.35" fill="#fff" stroke="#ff1010" stroke-width="0.5" stroke-opacity="0.35"/>
<circle cx="214.1" cy="230.1" r="1.35" fill="#fff" stroke="#ff1010" stroke-width="0.5" stroke-opacity="0.35"/>
<circle cx="235.2" cy="249.8" r="1.35" fill="#fff" stroke="#ff1010" stroke-width="0.5" stroke-opacity="0.35"/>
<circle cx="252.8" cy="272.8" r="1.35" fill="#fff" stroke="#ff1010" stroke-width="0.5" stroke-opacity="0.35"/>
<circle cx="261.0" cy="279.4" r="1.35" fill="#fff" stroke="#ff1010" stroke-width="0.5" stroke-opacity="0.35"/>
<path d="M77.0 357.8 L79.4 345.8" fill="none" stroke="#ffa5d5" stroke-width="2.1"/>
<circle cx="77.4" cy="355.6" r="0.75" fill="#fff"/>
<circle cx="77.9" cy="353.5" r="0.75" fill="#fff"/>
<circle cx="78.3" cy="351.3" r="0.75" fill="#fff"/>
<circle cx="78.7" cy="349.2" r="0.75" fill="#fff"/>
<circle cx="79.2" cy="347.0" r="0.75" fill="#fff"/>
<path d="M79.4 345.8 L79.8 344.0 L82.2 331.2 L87.8 310.9 L93.3 296.1 L98.8 280.6 L108.6 262.6 L121.3 243.2 L137.2 231.7 L157.5 225.2 L176.8 228.7 L197.6 242.7 L212.9 265.8 L224.6 289.2 L236.4 300.5 L259.8 302.9" fill="none" stroke="#ff1493" stroke-width="2.0" stroke-linejoin="round" opacity="1.0"/>
<circle cx="79.8" cy="344.0" r="1.35" fill="#fff" stroke="#ff1493" stroke-width="0.5" stroke-opacity="0.35"/>
<circle cx="82.2" cy="331.2" r="1.35" fill="#fff" stroke="#ff1493" stroke-width="0.5" stroke-opacity="0.35"/>
<circle cx="87.8" cy="310.9" r="1.35" fill="#fff" stroke="#ff1493" stroke-width="0.5" stroke-opacity="0.35"/>
<circle cx="93.3" cy="296.1" r="1.35" fill="#fff" stroke="#ff1493" stroke-width="0.5" stroke-opacity="0.35"/>
<circle cx="98.8" cy="280.6" r="1.35" fill="#fff" stroke="#ff1493" stroke-width="0.5" stroke-opacity="0.35"/>
<circle cx="108.6" cy="262.6" r="1.35" fill="#fff" stroke="#ff1493" stroke-width="0.5" stroke-opacity="0.35"/>
<circle cx="121.3" cy="243.2" r="1.35" fill="#fff" stroke="#ff1493" stroke-width="0.5" stroke-opacity="0.35"/>
<circle cx="137.2" cy="231.7" r="1.35" fill="#fff" stroke="#ff1493" stroke-width="0.5" stroke-opacity="0.35"/>
<circle cx="157.5" cy="225.2" r="1.35" fill="#fff" stroke="#ff1493" stroke-width="0.5" stroke-opacity="0.35"/>
<circle cx="176.8" cy="228.7" r="1.35" fill="#fff" stroke="#ff1493" stroke-width="0.5" stroke-opacity="0.35"/>
<circle cx="197.6" cy="242.7" r="1.35" fill="#fff" stroke="#ff1493" stroke-width="0.5" stroke-opacity="0.35"/>
<circle cx="212.9" cy="265.8" r="1.35" fill="#fff" stroke="#ff1493" stroke-width="0.5" stroke-opacity="0.35"/>
<circle cx="224.6" cy="289.2" r="1.35" fill="#fff" stroke="#ff1493" stroke-width="0.5" stroke-opacity="0.35"/>
<circle cx="236.4" cy="300.5" r="1.35" fill="#fff" stroke="#ff1493" stroke-width="0.5" stroke-opacity="0.35"/>
<circle cx="259.8" cy="302.9" r="1.35" fill="#fff" stroke="#ff1493" stroke-width="0.5" stroke-opacity="0.35"/>
<path d="M77.0 357.8 L79.4 345.8" fill="none" stroke="#a1a1da" stroke-width="2.1"/>
<circle cx="77.4" cy="355.6" r="0.75" fill="#fff"/>
<circle cx="77.9" cy="353.5" r="0.75" fill="#fff"/>
<circle cx="78.3" cy="351.3" r="0.75" fill="#fff"/>
<circle cx="78.7" cy="349.2" r="0.75" fill="#fff"/>
<circle cx="79.2" cy="347.0" r="0.75" fill="#fff"/>
<path d="M79.4 345.8 L79.8 344.0 L82.2 331.2 L87.8 310.9 L93.3 296.1 L98.8 280.4 L107.1 263.8 L122.2 239.5 L136.3 225.6 L157.5 215.3 L176.8 217.6 L196.4 229.4 L215.2 248.8 L229.8 256.4" fill="none" stroke="#0a0aa0" stroke-width="2.0" stroke-linejoin="round" opacity="1.0"/>
<circle cx="79.8" cy="344.0" r="1.35" fill="#fff" stroke="#0a0aa0" stroke-width="0.5" stroke-opacity="0.35"/>
<circle cx="82.2" cy="331.2" r="1.35" fill="#fff" stroke="#0a0aa0" stroke-width="0.5" stroke-opacity="0.35"/>
<circle cx="87.8" cy="310.9" r="1.35" fill="#fff" stroke="#0a0aa0" stroke-width="0.5" stroke-opacity="0.35"/>
<circle cx="93.3" cy="296.1" r="1.35" fill="#fff" stroke="#0a0aa0" stroke-width="0.5" stroke-opacity="0.35"/>
<circle cx="98.8" cy="280.4" r="1.35" fill="#fff" stroke="#0a0aa0" stroke-width="0.5" stroke-opacity="0.35"/>
<circle cx="107.1" cy="263.8" r="1.35" fill="#fff" stroke="#0a0aa0" stroke-width="0.5" stroke-opacity="0.35"/>
<circle cx="122.2" cy="239.5" r="1.35" fill="#fff" stroke="#0a0aa0" stroke-width="0.5" stroke-opacity="0.35"/>
<circle cx="136.3" cy="225.6" r="1.35" fill="#fff" stroke="#0a0aa0" stroke-width="0.5" stroke-opacity="0.35"/>
<circle cx="157.5" cy="215.3" r="1.35" fill="#fff" stroke="#0a0aa0" stroke-width="0.5" stroke-opacity="0.35"/>
<circle cx="176.8" cy="217.6" r="1.35" fill="#fff" stroke="#0a0aa0" stroke-width="0.5" stroke-opacity="0.35"/>
<circle cx="196.4" cy="229.4" r="1.35" fill="#fff" stroke="#0a0aa0" stroke-width="0.5" stroke-opacity="0.35"/>
<circle cx="215.2" cy="248.8" r="1.35" fill="#fff" stroke="#0a0aa0" stroke-width="0.5" stroke-opacity="0.35"/>
<circle cx="229.8" cy="256.4" r="1.35" fill="#fff" stroke="#0a0aa0" stroke-width="0.5" stroke-opacity="0.35"/>
<path d="M75.5 557.7 L77.3 555.2 L79.9 550.0 L82.9 545.5 L86.0 544.1 L89.5 545.2 L93.0 548.0 L96.1 550.6 L99.5 554.2" fill="none" stroke="#ffe3d0" stroke-width="2.3" stroke-linejoin="round" opacity="1.0"/>
<circle cx="76.7" cy="556.0" r="0.95" fill="#fff" stroke="#ffd6ba" stroke-width="0.5"/>
<circle cx="77.8" cy="554.2" r="0.95" fill="#fff" stroke="#ffd6ba" stroke-width="0.5"/>
<circle cx="78.7" cy="552.3" r="0.95" fill="#fff" stroke="#ffd6ba" stroke-width="0.5"/>
<circle cx="79.7" cy="550.4" r="0.95" fill="#fff" stroke="#ffd6ba" stroke-width="0.5"/>
<circle cx="80.8" cy="548.7" r="0.95" fill="#fff" stroke="#ffd6ba" stroke-width="0.5"/>
<circle cx="82.0" cy="546.9" r="0.95" fill="#fff" stroke="#ffd6ba" stroke-width="0.5"/>
<circle cx="83.3" cy="545.3" r="0.95" fill="#fff" stroke="#ffd6ba" stroke-width="0.5"/>
<circle cx="85.2" cy="544.5" r="0.95" fill="#fff" stroke="#ffd6ba" stroke-width="0.5"/>
<circle cx="87.1" cy="544.5" r="0.95" fill="#fff" stroke="#ffd6ba" stroke-width="0.5"/>
<circle cx="89.1" cy="545.1" r="0.95" fill="#fff" stroke="#ffd6ba" stroke-width="0.5"/>
<circle cx="90.8" cy="546.3" r="0.95" fill="#fff" stroke="#ffd6ba" stroke-width="0.5"/>
<circle cx="92.5" cy="547.6" r="0.95" fill="#fff" stroke="#ffd6ba" stroke-width="0.5"/>
<circle cx="94.1" cy="548.9" r="0.95" fill="#fff" stroke="#ffd6ba" stroke-width="0.5"/>
<circle cx="95.7" cy="550.3" r="0.95" fill="#fff" stroke="#ffd6ba" stroke-width="0.5"/>
<circle cx="97.2" cy="551.8" r="0.95" fill="#fff" stroke="#ffd6ba" stroke-width="0.5"/>
<circle cx="98.6" cy="553.3" r="0.95" fill="#fff" stroke="#ffd6ba" stroke-width="0.5"/>
<path d="M77.2 557.7 L78.5 553.0 L80.2 547.6 L80.5 545.7" fill="none" stroke="#a6a6ff" stroke-width="2.1"/>
<circle cx="77.8" cy="555.6" r="0.75" fill="#fff"/>
<circle cx="78.4" cy="553.5" r="0.75" fill="#fff"/>
<circle cx="79.0" cy="551.4" r="0.75" fill="#fff"/>
<circle cx="79.7" cy="549.3" r="0.75" fill="#fff"/>
<circle cx="80.3" cy="547.1" r="0.75" fill="#fff"/>
<path d="M80.5 545.7 L81.5 540.0 L84.0 532.3 L89.1 524.3 L95.1 518.3 L102.2 515.7 L109.2 517.2 L116.2 521.3 L121.3 527.3 L125.3 533.3 L129.5 541.5 L133.3 547.9" fill="none" stroke="#1515ff" stroke-width="2.2" stroke-linejoin="round" stroke-dasharray="3.90 1.5" stroke-dashoffset="0" opacity="1.0"/>
<path d="M133.3 547.9 L141.0 550.5 L149.7 539.1 L157.4 524.9 L161.8 509.6" fill="none" stroke="#1515ff" stroke-width="2.2" stroke-linejoin="round" opacity="1.0"/>
<circle cx="141.0" cy="550.5" r="1.3" fill="#fff" stroke="#1515ff" stroke-width="0.5" stroke-opacity="0.35"/>
<circle cx="149.7" cy="539.1" r="1.3" fill="#fff" stroke="#1515ff" stroke-width="0.5" stroke-opacity="0.35"/>
<circle cx="157.4" cy="524.9" r="1.3" fill="#fff" stroke="#1515ff" stroke-width="0.5" stroke-opacity="0.35"/>
<circle cx="161.8" cy="509.6" r="1.3" fill="#fff" stroke="#1515ff" stroke-width="0.5" stroke-opacity="0.35"/>
<path d="M77.2 557.7 L79.8 546.0 L79.8 545.7" fill="none" stroke="#a4f3a4" stroke-width="2.1"/>
<circle cx="77.7" cy="555.6" r="0.75" fill="#fff"/>
<circle cx="78.2" cy="553.4" r="0.75" fill="#fff"/>
<circle cx="78.6" cy="551.3" r="0.75" fill="#fff"/>
<circle cx="79.1" cy="549.1" r="0.75" fill="#fff"/>
<circle cx="79.6" cy="547.0" r="0.75" fill="#fff"/>
<path d="M79.8 545.7 L81.5 535.0 L84.5 527.0 L87.1 520.3 L90.1 510.2 L94.1 502.2 L99.1 494.1 L105.2 487.1 L112.2 481.5 L120.3 476.5 L126.0 475.5 L132.8 475.5 L146.2 480.7 L156.5 490.0 L161.8 500.8 L167.2 510.7 L174.9 523.8 L184.8 529.9 L195.5 526.2 L205.7 501.5" fill="none" stroke="#12e212" stroke-width="2.1" stroke-linejoin="round" stroke-dasharray="7.20 1.8" stroke-dashoffset="-2" opacity="1.0"/>
<path d="M77.2 557.7 L79.7 545.7" fill="none" stroke="#cc9e9e" stroke-width="2.1"/>
<circle cx="77.6" cy="555.5" r="0.75" fill="#fff"/>
<circle cx="78.1" cy="553.4" r="0.75" fill="#fff"/>
<circle cx="78.5" cy="551.2" r="0.75" fill="#fff"/>
<circle cx="79.0" cy="549.1" r="0.75" fill="#fff"/>
<circle cx="79.4" cy="546.9" r="0.75" fill="#fff"/>
<path d="M79.7 545.7 L79.8 545.0 L82.2 531.2 L87.8 510.9 L93.3 497.0 L100.7 481.4 L109.9 465.7 L124.0 451.5 L139.8 443.2 L156.6 441.9 L173.3 447.2 L189.4 462.9 L203.5 495.8 L212.9 512.7 L231.7 524.0 L244.6 519.8 L263.4 505.2" fill="none" stroke="#7a0000" stroke-width="2.2" stroke-linejoin="round" opacity="1.0"/>
<circle cx="79.8" cy="545.0" r="1.35" fill="#fff" stroke="#7a0000" stroke-width="0.5" stroke-opacity="0.35"/>
<circle cx="82.2" cy="531.2" r="1.35" fill="#fff" stroke="#7a0000" stroke-width="0.5" stroke-opacity="0.35"/>
<circle cx="87.8" cy="510.9" r="1.35" fill="#fff" stroke="#7a0000" stroke-width="0.5" stroke-opacity="0.35"/>
<circle cx="93.3" cy="497.0" r="1.35" fill="#fff" stroke="#7a0000" stroke-width="0.5" stroke-opacity="0.35"/>
<circle cx="100.7" cy="481.4" r="1.35" fill="#fff" stroke="#7a0000" stroke-width="0.5" stroke-opacity="0.35"/>
<circle cx="109.9" cy="465.7" r="1.35" fill="#fff" stroke="#7a0000" stroke-width="0.5" stroke-opacity="0.35"/>
<circle cx="124.0" cy="451.5" r="1.35" fill="#fff" stroke="#7a0000" stroke-width="0.5" stroke-opacity="0.35"/>
<circle cx="139.8" cy="443.2" r="1.35" fill="#fff" stroke="#7a0000" stroke-width="0.5" stroke-opacity="0.35"/>
<circle cx="156.6" cy="441.9" r="1.35" fill="#fff" stroke="#7a0000" stroke-width="0.5" stroke-opacity="0.35"/>
<circle cx="173.3" cy="447.2" r="1.35" fill="#fff" stroke="#7a0000" stroke-width="0.5" stroke-opacity="0.35"/>
<circle cx="189.4" cy="462.9" r="1.35" fill="#fff" stroke="#7a0000" stroke-width="0.5" stroke-opacity="0.35"/>
<circle cx="203.5" cy="495.8" r="1.35" fill="#fff" stroke="#7a0000" stroke-width="0.5" stroke-opacity="0.35"/>
<circle cx="212.9" cy="512.7" r="1.35" fill="#fff" stroke="#7a0000" stroke-width="0.5" stroke-opacity="0.35"/>
<circle cx="231.7" cy="524.0" r="1.35" fill="#fff" stroke="#7a0000" stroke-width="0.5" stroke-opacity="0.35"/>
<circle cx="244.6" cy="519.8" r="1.35" fill="#fff" stroke="#7a0000" stroke-width="0.5" stroke-opacity="0.35"/>
<circle cx="263.4" cy="505.2" r="1.35" fill="#fff" stroke="#7a0000" stroke-width="0.5" stroke-opacity="0.35"/>
<path d="M77.2 557.7 L79.4 545.7" fill="none" stroke="#ffa4a4" stroke-width="2.1"/>
<circle cx="77.6" cy="555.5" r="0.75" fill="#fff"/>
<circle cx="78.0" cy="553.4" r="0.75" fill="#fff"/>
<circle cx="78.4" cy="551.2" r="0.75" fill="#fff"/>
<circle cx="78.8" cy="549.0" r="0.75" fill="#fff"/>
<circle cx="79.2" cy="546.9" r="0.75" fill="#fff"/>
<path d="M79.4 545.7 L79.5 545.0 L81.8 531.2 L87.3 510.9 L92.8 497.0 L99.3 480.0 L107.6 463.3 L120.8 442.7 L137.6 425.9 L157.5 416.6 L181.2 414.4 L196.0 424.7 L215.2 452.8 L235.2 474.0 L251.6 476.3 L258.7 468.1 L262.2 458.7" fill="none" stroke="#ff1010" stroke-width="2.0" stroke-linejoin="round" opacity="1.0"/>
<circle cx="79.5" cy="545.0" r="1.35" fill="#fff" stroke="#ff1010" stroke-width="0.5" stroke-opacity="0.35"/>
<circle cx="81.8" cy="531.2" r="1.35" fill="#fff" stroke="#ff1010" stroke-width="0.5" stroke-opacity="0.35"/>
<circle cx="87.3" cy="510.9" r="1.35" fill="#fff" stroke="#ff1010" stroke-width="0.5" stroke-opacity="0.35"/>
<circle cx="92.8" cy="497.0" r="1.35" fill="#fff" stroke="#ff1010" stroke-width="0.5" stroke-opacity="0.35"/>
<circle cx="99.3" cy="480.0" r="1.35" fill="#fff" stroke="#ff1010" stroke-width="0.5" stroke-opacity="0.35"/>
<circle cx="107.6" cy="463.3" r="1.35" fill="#fff" stroke="#ff1010" stroke-width="0.5" stroke-opacity="0.35"/>
<circle cx="120.8" cy="442.7" r="1.35" fill="#fff" stroke="#ff1010" stroke-width="0.5" stroke-opacity="0.35"/>
<circle cx="137.6" cy="425.9" r="1.35" fill="#fff" stroke="#ff1010" stroke-width="0.5" stroke-opacity="0.35"/>
<circle cx="157.5" cy="416.6" r="1.35" fill="#fff" stroke="#ff1010" stroke-width="0.5" stroke-opacity="0.35"/>
<circle cx="181.2" cy="414.4" r="1.35" fill="#fff" stroke="#ff1010" stroke-width="0.5" stroke-opacity="0.35"/>
<circle cx="196.0" cy="424.7" r="1.35" fill="#fff" stroke="#ff1010" stroke-width="0.5" stroke-opacity="0.35"/>
<circle cx="215.2" cy="452.8" r="1.35" fill="#fff" stroke="#ff1010" stroke-width="0.5" stroke-opacity="0.35"/>
<circle cx="235.2" cy="474.0" r="1.35" fill="#fff" stroke="#ff1010" stroke-width="0.5" stroke-opacity="0.35"/>
<circle cx="251.6" cy="476.3" r="1.35" fill="#fff" stroke="#ff1010" stroke-width="0.5" stroke-opacity="0.35"/>
<circle cx="258.7" cy="468.1" r="1.35" fill="#fff" stroke="#ff1010" stroke-width="0.5" stroke-opacity="0.35"/>
<circle cx="262.2" cy="458.7" r="1.35" fill="#fff" stroke="#ff1010" stroke-width="0.5" stroke-opacity="0.35"/>
<path d="M77.2 557.7 L79.7 545.7" fill="none" stroke="#ffa5d5" stroke-width="2.1"/>
<circle cx="77.6" cy="555.5" r="0.75" fill="#fff"/>
<circle cx="78.1" cy="553.4" r="0.75" fill="#fff"/>
<circle cx="78.5" cy="551.2" r="0.75" fill="#fff"/>
<circle cx="79.0" cy="549.1" r="0.75" fill="#fff"/>
<circle cx="79.4" cy="546.9" r="0.75" fill="#fff"/>
<path d="M79.7 545.7 L79.8 545.0 L82.2 531.2 L87.8 510.9 L93.3 497.0 L99.8 480.4 L108.1 463.8 L121.3 444.0 L138.1 427.5 L157.5 419.4 L176.8 424.3 L197.6 439.9 L212.9 462.2 L223.4 488.1 L236.4 506.9 L249.3 515.5 L259.8 522.1" fill="none" stroke="#ff1493" stroke-width="2.0" stroke-linejoin="round" opacity="1.0"/>
<circle cx="79.8" cy="545.0" r="1.35" fill="#fff" stroke="#ff1493" stroke-width="0.5" stroke-opacity="0.35"/>
<circle cx="82.2" cy="531.2" r="1.35" fill="#fff" stroke="#ff1493" stroke-width="0.5" stroke-opacity="0.35"/>
<circle cx="87.8" cy="510.9" r="1.35" fill="#fff" stroke="#ff1493" stroke-width="0.5" stroke-opacity="0.35"/>
<circle cx="93.3" cy="497.0" r="1.35" fill="#fff" stroke="#ff1493" stroke-width="0.5" stroke-opacity="0.35"/>
<circle cx="99.8" cy="480.4" r="1.35" fill="#fff" stroke="#ff1493" stroke-width="0.5" stroke-opacity="0.35"/>
<circle cx="108.1" cy="463.8" r="1.35" fill="#fff" stroke="#ff1493" stroke-width="0.5" stroke-opacity="0.35"/>
<circle cx="121.3" cy="444.0" r="1.35" fill="#fff" stroke="#ff1493" stroke-width="0.5" stroke-opacity="0.35"/>
<circle cx="138.1" cy="427.5" r="1.35" fill="#fff" stroke="#ff1493" stroke-width="0.5" stroke-opacity="0.35"/>
<circle cx="157.5" cy="419.4" r="1.35" fill="#fff" stroke="#ff1493" stroke-width="0.5" stroke-opacity="0.35"/>
<circle cx="176.8" cy="424.3" r="1.35" fill="#fff" stroke="#ff1493" stroke-width="0.5" stroke-opacity="0.35"/>
<circle cx="197.6" cy="439.9" r="1.35" fill="#fff" stroke="#ff1493" stroke-width="0.5" stroke-opacity="0.35"/>
<circle cx="212.9" cy="462.2" r="1.35" fill="#fff" stroke="#ff1493" stroke-width="0.5" stroke-opacity="0.35"/>
<circle cx="223.4" cy="488.1" r="1.35" fill="#fff" stroke="#ff1493" stroke-width="0.5" stroke-opacity="0.35"/>
<circle cx="236.4" cy="506.9" r="1.35" fill="#fff" stroke="#ff1493" stroke-width="0.5" stroke-opacity="0.35"/>
<circle cx="249.3" cy="515.5" r="1.35" fill="#fff" stroke="#ff1493" stroke-width="0.5" stroke-opacity="0.35"/>
<circle cx="259.8" cy="522.1" r="1.35" fill="#fff" stroke="#ff1493" stroke-width="0.5" stroke-opacity="0.35"/>
<path d="M77.2 557.7 L79.7 545.7" fill="none" stroke="#a1a1da" stroke-width="2.1"/>
<circle cx="77.6" cy="555.5" r="0.75" fill="#fff"/>
<circle cx="78.1" cy="553.4" r="0.75" fill="#fff"/>
<circle cx="78.5" cy="551.2" r="0.75" fill="#fff"/>
<circle cx="79.0" cy="549.1" r="0.75" fill="#fff"/>
<circle cx="79.4" cy="546.9" r="0.75" fill="#fff"/>
<path d="M79.7 545.7 L79.8 545.0 L82.2 531.2 L87.8 510.9 L93.3 497.0 L99.8 480.4 L108.1 463.8 L121.3 443.2 L138.1 426.4 L157.5 417.1 L176.8 417.6 L196.0 432.9 L215.2 454.0 L230.5 455.4" fill="none" stroke="#0a0aa0" stroke-width="2.0" stroke-linejoin="round" opacity="1.0"/>
<circle cx="79.8" cy="545.0" r="1.35" fill="#fff" stroke="#0a0aa0" stroke-width="0.5" stroke-opacity="0.35"/>
<circle cx="82.2" cy="531.2" r="1.35" fill="#fff" stroke="#0a0aa0" stroke-width="0.5" stroke-opacity="0.35"/>
<circle cx="87.8" cy="510.9" r="1.35" fill="#fff" stroke="#0a0aa0" stroke-width="0.5" stroke-opacity="0.35"/>
<circle cx="93.3" cy="497.0" r="1.35" fill="#fff" stroke="#0a0aa0" stroke-width="0.5" stroke-opacity="0.35"/>
<circle cx="99.8" cy="480.4" r="1.35" fill="#fff" stroke="#0a0aa0" stroke-width="0.5" stroke-opacity="0.35"/>
<circle cx="108.1" cy="463.8" r="1.35" fill="#fff" stroke="#0a0aa0" stroke-width="0.5" stroke-opacity="0.35"/>
<circle cx="121.3" cy="443.2" r="1.35" fill="#fff" stroke="#0a0aa0" stroke-width="0.5" stroke-opacity="0.35"/>
<circle cx="138.1" cy="426.4" r="1.35" fill="#fff" stroke="#0a0aa0" stroke-width="0.5" stroke-opacity="0.35"/>
<circle cx="157.5" cy="417.1" r="1.35" fill="#fff" stroke="#0a0aa0" stroke-width="0.5" stroke-opacity="0.35"/>
<circle cx="176.8" cy="417.6" r="1.35" fill="#fff" stroke="#0a0aa0" stroke-width="0.5" stroke-opacity="0.35"/>
<circle cx="196.0" cy="432.9" r="1.35" fill="#fff" stroke="#0a0aa0" stroke-width="0.5" stroke-opacity="0.35"/>
<circle cx="215.2" cy="454.0" r="1.35" fill="#fff" stroke="#0a0aa0" stroke-width="0.5" stroke-opacity="0.35"/>
<circle cx="230.5" cy="455.4" r="1.35" fill="#fff" stroke="#0a0aa0" stroke-width="0.5" stroke-opacity="0.35"/>
<line x1="101.2" y1="158.8" x2="110.5" y2="159.4" stroke="#ff8000" stroke-width="2"/>
<circle cx="106.85" cy="159.40000000000003" r="0.9" fill="#fff"/>
<line x1="100.5" y1="352.5" x2="110.8" y2="357" stroke="#ff8000" stroke-width="2"/>
<circle cx="106.65" cy="355.05" r="0.9" fill="#fff"/>
<line x1="99.5" y1="554.2" x2="110.8" y2="558.9" stroke="#ff8000" stroke-width="2"/>
<circle cx="106.15" cy="556.8499999999999" r="0.9" fill="#fff"/>
<line x1="358" y1="13.30" x2="369.8" y2="13.30" stroke="#ff8000" stroke-width="5"/>
<line x1="376.4" y1="13.30" x2="388.2" y2="13.30" stroke="#ff8000" stroke-width="5"/>
<circle cx="373.1" cy="13.30" r="2.9" fill="#fff" stroke="#ff8000" stroke-width="0.5"/>
<text x="393.2" y="16.40" font-size="9.85" fill="#111">Ab-N,S-GQDs@AuNP-PAni/PAni||GCE</text>
<line x1="358" y1="31.55" x2="369.8" y2="31.55" stroke="#1515ff" stroke-width="5"/>
<line x1="376.4" y1="31.55" x2="388.2" y2="31.55" stroke="#1515ff" stroke-width="5"/>
<rect x="370.3" y="28.95" width="5.6" height="5.2" fill="#fff" stroke="#1515ff" stroke-width="0.4" stroke-opacity="0.5"/>
<text x="393.2" y="34.65" font-size="9.85" fill="#111">1 fg mL<tspan font-size="6.3" dy="-4.2">−1</tspan></text>
<text x="438.40" y="34.65" font-size="9.85" fill="#111">HEV-LP</text>
<line x1="358" y1="49.80" x2="369.8" y2="49.80" stroke="#12e212" stroke-width="5"/>
<line x1="376.4" y1="49.80" x2="388.2" y2="49.80" stroke="#12e212" stroke-width="5"/>
<circle cx="373.1" cy="49.80" r="2.9" fill="#fff" stroke="#12e212" stroke-width="0.5"/>
<text x="393.2" y="52.90" font-size="9.85" fill="#111">10 fg mL<tspan font-size="6.3" dy="-4.2">−1</tspan></text>
<text x="443.70" y="52.90" font-size="9.85" fill="#111">HEV-LP</text>
<line x1="358" y1="68.05" x2="369.8" y2="68.05" stroke="#7a0000" stroke-width="5"/>
<line x1="376.4" y1="68.05" x2="388.2" y2="68.05" stroke="#7a0000" stroke-width="5"/>
<path d="M373.1 64.65 L376.3 68.05 L373.1 71.45 L369.9 68.05Z" fill="#fff" stroke="#7a0000" stroke-width="0.5"/>
<text x="393.2" y="71.15" font-size="9.85" fill="#111">100 fg mL<tspan font-size="6.3" dy="-4.2">−1</tspan></text>
<text x="449.10" y="71.15" font-size="9.85" fill="#111">HEV-LP</text>
<line x1="358" y1="86.30" x2="369.8" y2="86.30" stroke="#ff1010" stroke-width="5"/>
<line x1="376.4" y1="86.30" x2="388.2" y2="86.30" stroke="#ff1010" stroke-width="5"/>
<circle cx="373.1" cy="86.30" r="2.9" fill="#fff" stroke="#ff1010" stroke-width="0.5"/>
<text x="393.2" y="89.40" font-size="9.85" fill="#111">1 pg mL<tspan font-size="6.3" dy="-4.2">−1</tspan></text>
<text x="438.10" y="89.40" font-size="9.85" fill="#111">HEV-LP</text>
<line x1="358" y1="104.55" x2="369.8" y2="104.55" stroke="#0a0aa0" stroke-width="5"/>
<line x1="376.4" y1="104.55" x2="388.2" y2="104.55" stroke="#0a0aa0" stroke-width="5"/>
<circle cx="373.1" cy="104.55" r="2.9" fill="#fff" stroke="#0a0aa0" stroke-width="0.5"/>
<text x="393.2" y="107.65" font-size="9.85" fill="#111">10 pg mL<tspan font-size="6.3" dy="-4.2">−1</tspan></text>
<text x="443.70" y="107.65" font-size="9.85" fill="#111">HEV-LP</text>
<line x1="358" y1="122.80" x2="369.8" y2="122.80" stroke="#ff1493" stroke-width="5"/>
<line x1="376.4" y1="122.80" x2="388.2" y2="122.80" stroke="#ff1493" stroke-width="5"/>
<rect x="370.3" y="120.20" width="5.6" height="5.2" fill="#fff" stroke="#ff1493" stroke-width="0.4" stroke-opacity="0.5"/>
<text x="393.2" y="125.90" font-size="9.85" fill="#111">100 pg mL<tspan font-size="6.3" dy="-4.2">−1</tspan></text>
<text x="449.10" y="125.90" font-size="9.85" fill="#111">HEV-LP</text>
<text x="335.9" y="163.6" font-size="16" font-weight="bold" fill="#000">d</text>
<g fill="none" stroke="#172f6b" stroke-width="1.5">
<circle cx="335.6" cy="213.9" r="2.2" fill="#8cbcff" stroke="#0f215e" stroke-width="1.6"/>
<path d="M337.8 213.9 H357.2 L361.8 203.2 L366.6 224 L374.6 203.2 L380.7 224 L384.2 213.9 H403"/>
<path d="M444.4 249.9 H403 V177.6 H521.2 V249.9 H472.1"/>
<path d="M458.5 162 V192.6 M463.3 166.4 V187.3" stroke-width="1.5"/>
<path d="M521.2 213.4 H540.5"/>
<path d="M582.1 249.9 H540.5 V177.1 H659.1 V249.9 H609.9"/>
<path d="M596.2 161.5 V192.2 M601.1 166 V187" stroke-width="1.5"/>
<path d="M659.1 212.7 H679"/>
<circle cx="681.2" cy="212.7" r="2.2" fill="#8cbcff" stroke="#0f215e" stroke-width="1.6"/>
</g>
<g fill="none" stroke="#111" stroke-width="1.4" stroke-linejoin="miter">
<path d="M444.4 249.9 L449.4 239.8 L454.4 260.2 L462.9 239.8 L469.4 260.2 L472.1 249.9"/>
<path d="M582.1 249.9 L587.6 239.6 L592.4 260.2 L600 239.6 L606.8 260.2 L609.9 249.9"/>
</g>
<text x="467.3" y="170.9" font-size="11.5" fill="#172f6b" stroke="#172f6b">CPE</text>
<text x="602.3" y="170.9" font-size="11.5" fill="#172f6b" stroke="#172f6b">C</text>
<text x="362.2" y="237" font-size="11" fill="#172f6b" stroke="#172f6b">R<tspan font-size="8.2" dy="2.8">sol</tspan></text>
<text x="452.5" y="277.7" font-size="11" fill="#172f6b" stroke="#172f6b">R<tspan font-size="8.2" dy="2.8">ct</tspan></text>
<text x="591" y="276.6" font-size="11" fill="#172f6b" stroke="#172f6b">R<tspan font-size="8.2" dy="2.8">Vir</tspan></text>
<text x="335.3" y="311.2" font-size="16" font-weight="bold" fill="#000">e</text>
<rect x="404.90" y="492.76" width="29" height="50.54" fill="#00b400" stroke="#222" stroke-width="0.7"/>
<rect x="409.70" y="494.39" width="19.4" height="48.91" fill="#fcc896" stroke="#333" stroke-width="0.6"/>
<rect x="414.40" y="525.80" width="10" height="17.50" fill="#0000f5" stroke="#222" stroke-width="0.4"/>
<rect x="453.20" y="457.42" width="29" height="85.88" fill="#00b400" stroke="#222" stroke-width="0.7"/>
<rect x="458.00" y="462.50" width="19.4" height="80.80" fill="#fcc896" stroke="#333" stroke-width="0.6"/>
<rect x="462.70" y="521.38" width="10" height="21.92" fill="#0000f5" stroke="#222" stroke-width="0.4"/>
<rect x="501.60" y="425.53" width="29" height="117.77" fill="#00b400" stroke="#222" stroke-width="0.7"/>
<rect x="506.40" y="430.27" width="19.4" height="113.03" fill="#fcc896" stroke="#333" stroke-width="0.6"/>
<rect x="511.10" y="497.17" width="10" height="46.13" fill="#0000f5" stroke="#222" stroke-width="0.4"/>
<rect x="550.00" y="399.19" width="29" height="144.11" fill="#00b400" stroke="#222" stroke-width="0.7"/>
<rect x="554.80" y="410.81" width="19.4" height="132.49" fill="#fcc896" stroke="#333" stroke-width="0.6"/>
<rect x="559.50" y="463.15" width="10" height="80.15" fill="#0000f5" stroke="#222" stroke-width="0.4"/>
<rect x="598.40" y="366.15" width="29" height="177.15" fill="#00b400" stroke="#222" stroke-width="0.7"/>
<rect x="603.20" y="381.69" width="19.4" height="161.61" fill="#fcc896" stroke="#333" stroke-width="0.6"/>
<rect x="607.90" y="448.92" width="10" height="94.38" fill="#0000f5" stroke="#222" stroke-width="0.4"/>
<rect x="646.80" y="351.43" width="29" height="191.87" fill="#00b400" stroke="#222" stroke-width="0.7"/>
<rect x="651.60" y="364.84" width="19.4" height="178.46" fill="#fcc896" stroke="#333" stroke-width="0.6"/>
<rect x="656.30" y="429.45" width="10" height="113.85" fill="#0000f5" stroke="#222" stroke-width="0.4"/>
<path d="M419.40 491.45V494.06M417.60 491.45H421.20M417.60 494.06H421.20" stroke="#111" stroke-width="0.9" fill="none"/>
<path d="M419.40 493.08V495.70M417.60 493.08H421.20M417.60 495.70H421.20" stroke="#111" stroke-width="0.9" fill="none"/>
<path d="M419.40 524.82V526.78M417.60 524.82H421.20M417.60 526.78H421.20" stroke="#111" stroke-width="0.9" fill="none"/>
<rect x="416.80" y="490.26" width="5.2" height="5" fill="#fff" stroke="#7c7" stroke-width="0.5"/>
<path d="M419.40 491.09L422.70 494.39L419.40 497.69L416.10 494.39Z" fill="#fff" stroke="#f90" stroke-width="0.6"/>
<circle cx="419.40" cy="525.80" r="2.5" fill="#fff" stroke="#66f" stroke-width="0.6"/>
<path d="M467.70 455.79V459.06M465.90 455.79H469.50M465.90 459.06H469.50" stroke="#111" stroke-width="0.9" fill="none"/>
<path d="M467.70 460.86V464.13M465.90 460.86H469.50M465.90 464.13H469.50" stroke="#111" stroke-width="0.9" fill="none"/>
<path d="M467.70 520.40V522.36M465.90 520.40H469.50M465.90 522.36H469.50" stroke="#111" stroke-width="0.9" fill="none"/>
<rect x="465.10" y="454.92" width="5.2" height="5" fill="#fff" stroke="#7c7" stroke-width="0.5"/>
<path d="M467.70 459.20L471.00 462.50L467.70 465.80L464.40 462.50Z" fill="#fff" stroke="#f90" stroke-width="0.6"/>
<circle cx="467.70" cy="521.38" r="2.5" fill="#fff" stroke="#66f" stroke-width="0.6"/>
<path d="M516.10 423.57V427.49M514.30 423.57H517.90M514.30 427.49H517.90" stroke="#111" stroke-width="0.9" fill="none"/>
<path d="M516.10 428.31V432.23M514.30 428.31H517.90M514.30 432.23H517.90" stroke="#111" stroke-width="0.9" fill="none"/>
<path d="M516.10 496.19V498.15M514.30 496.19H517.90M514.30 498.15H517.90" stroke="#111" stroke-width="0.9" fill="none"/>
<rect x="513.50" y="423.03" width="5.2" height="5" fill="#fff" stroke="#7c7" stroke-width="0.5"/>
<path d="M516.10 426.97L519.40 430.27L516.10 433.57L512.80 430.27Z" fill="#fff" stroke="#f90" stroke-width="0.6"/>
<circle cx="516.10" cy="497.17" r="2.5" fill="#fff" stroke="#66f" stroke-width="0.6"/>
<path d="M564.50 394.61V403.77M562.70 394.61H566.30M562.70 403.77H566.30" stroke="#111" stroke-width="0.9" fill="none"/>
<path d="M564.50 408.84V412.77M562.70 408.84H566.30M562.70 412.77H566.30" stroke="#111" stroke-width="0.9" fill="none"/>
<path d="M564.50 461.84V464.46M562.70 461.84H566.30M562.70 464.46H566.30" stroke="#111" stroke-width="0.9" fill="none"/>
<rect x="561.90" y="396.69" width="5.2" height="5" fill="#fff" stroke="#7c7" stroke-width="0.5"/>
<path d="M564.50 407.51L567.80 410.81L564.50 414.11L561.20 410.81Z" fill="#fff" stroke="#f90" stroke-width="0.6"/>
<circle cx="564.50" cy="463.15" r="2.5" fill="#fff" stroke="#66f" stroke-width="0.6"/>
<path d="M612.90 360.43V371.88M611.10 360.43H614.70M611.10 371.88H614.70" stroke="#111" stroke-width="0.9" fill="none"/>
<path d="M612.90 377.60V385.78M611.10 377.60H614.70M611.10 385.78H614.70" stroke="#111" stroke-width="0.9" fill="none"/>
<path d="M612.90 445.32V452.52M611.10 445.32H614.70M611.10 452.52H614.70" stroke="#111" stroke-width="0.9" fill="none"/>
<rect x="610.30" y="363.65" width="5.2" height="5" fill="#fff" stroke="#7c7" stroke-width="0.5"/>
<path d="M612.90 378.39L616.20 381.69L612.90 384.99L609.60 381.69Z" fill="#fff" stroke="#f90" stroke-width="0.6"/>
<circle cx="612.90" cy="448.92" r="2.5" fill="#fff" stroke="#66f" stroke-width="0.6"/>
<path d="M661.30 345.71V357.16M659.50 345.71H663.10M659.50 357.16H663.10" stroke="#111" stroke-width="0.9" fill="none"/>
<path d="M661.30 361.25V368.44M659.50 361.25H663.10M659.50 368.44H663.10" stroke="#111" stroke-width="0.9" fill="none"/>
<path d="M661.30 425.86V433.05M659.50 425.86H663.10M659.50 433.05H663.10" stroke="#111" stroke-width="0.9" fill="none"/>
<rect x="658.70" y="348.93" width="5.2" height="5" fill="#fff" stroke="#7c7" stroke-width="0.5"/>
<path d="M661.30 361.54L664.60 364.84L661.30 368.14L658.00 364.84Z" fill="#fff" stroke="#f90" stroke-width="0.6"/>
<circle cx="661.30" cy="429.45" r="2.5" fill="#fff" stroke="#66f" stroke-width="0.6"/>
<rect x="395.5" y="314.3" width="289.0" height="228.99999999999994" fill="none" stroke="#222" stroke-width="1.2"/>
<line x1="391.2" y1="543.30" x2="395.5" y2="543.30" stroke="#222" stroke-width="1.1"/>
<text x="386.6" y="548.20" font-size="11.2" text-anchor="end" fill="#111" stroke="#111">0</text>
<line x1="393.0" y1="526.94" x2="395.5" y2="526.94" stroke="#222" stroke-width="1.1"/>
<line x1="391.2" y1="510.59" x2="395.5" y2="510.59" stroke="#222" stroke-width="1.1"/>
<text x="386.6" y="515.49" font-size="11.2" text-anchor="end" fill="#111" stroke="#111">200</text>
<line x1="393.0" y1="494.23" x2="395.5" y2="494.23" stroke="#222" stroke-width="1.1"/>
<line x1="391.2" y1="477.87" x2="395.5" y2="477.87" stroke="#222" stroke-width="1.1"/>
<text x="386.6" y="482.77" font-size="11.2" text-anchor="end" fill="#111" stroke="#111">400</text>
<line x1="393.0" y1="461.51" x2="395.5" y2="461.51" stroke="#222" stroke-width="1.1"/>
<line x1="391.2" y1="445.16" x2="395.5" y2="445.16" stroke="#222" stroke-width="1.1"/>
<text x="386.6" y="450.06" font-size="11.2" text-anchor="end" fill="#111" stroke="#111">600</text>
<line x1="393.0" y1="428.80" x2="395.5" y2="428.80" stroke="#222" stroke-width="1.1"/>
<line x1="391.2" y1="412.44" x2="395.5" y2="412.44" stroke="#222" stroke-width="1.1"/>
<text x="386.6" y="417.34" font-size="11.2" text-anchor="end" fill="#111" stroke="#111">800</text>
<line x1="393.0" y1="396.09" x2="395.5" y2="396.09" stroke="#222" stroke-width="1.1"/>
<line x1="391.2" y1="379.73" x2="395.5" y2="379.73" stroke="#222" stroke-width="1.1"/>
<text x="386.6" y="384.63" font-size="11.2" text-anchor="end" fill="#111" stroke="#111">1000</text>
<line x1="393.0" y1="363.37" x2="395.5" y2="363.37" stroke="#222" stroke-width="1.1"/>
<line x1="391.2" y1="347.01" x2="395.5" y2="347.01" stroke="#222" stroke-width="1.1"/>
<text x="386.6" y="351.91" font-size="11.2" text-anchor="end" fill="#111" stroke="#111">1200</text>
<line x1="393.0" y1="330.66" x2="395.5" y2="330.66" stroke="#222" stroke-width="1.1"/>
<line x1="391.2" y1="314.30" x2="395.5" y2="314.30" stroke="#222" stroke-width="1.1"/>
<text x="386.6" y="319.20" font-size="11.2" text-anchor="end" fill="#111" stroke="#111">1400</text>
<line x1="419.4" y1="543.3" x2="419.4" y2="547.6999999999999" stroke="#222" stroke-width="1.1"/>
<line x1="467.7" y1="543.3" x2="467.7" y2="547.6999999999999" stroke="#222" stroke-width="1.1"/>
<line x1="516.1" y1="543.3" x2="516.1" y2="547.6999999999999" stroke="#222" stroke-width="1.1"/>
<line x1="564.5" y1="543.3" x2="564.5" y2="547.6999999999999" stroke="#222" stroke-width="1.1"/>
<line x1="612.9" y1="543.3" x2="612.9" y2="547.6999999999999" stroke="#222" stroke-width="1.1"/>
<line x1="661.3" y1="543.3" x2="661.3" y2="547.6999999999999" stroke="#222" stroke-width="1.1"/>
<text x="419.30" y="561.5" font-size="11.5" text-anchor="middle" fill="#111" stroke="#111">Sensor</text>
<text x="458.00" y="561.5" font-size="11.5" text-anchor="middle" fill="#111" stroke="#111">1</text>
<text x="500.40" y="561.5" font-size="11.5" text-anchor="middle" fill="#111" stroke="#111">10</text>
<text x="542.00" y="561.5" font-size="11.4" text-anchor="middle" fill="#111" stroke="#111">10</text><text x="548.40" y="557.3" font-size="7.2" fill="#111">2</text>
<text x="582.30" y="561.5" font-size="11.4" text-anchor="middle" fill="#111" stroke="#111">10</text><text x="588.70" y="557.3" font-size="7.2" fill="#111">3</text>
<text x="624.40" y="561.5" font-size="11.4" text-anchor="middle" fill="#111" stroke="#111">10</text><text x="630.80" y="557.3" font-size="7.2" fill="#111">4</text>
<text x="666.00" y="561.5" font-size="11.4" text-anchor="middle" fill="#111" stroke="#111">10</text><text x="672.40" y="557.3" font-size="7.2" fill="#111">5</text>
<text x="459" y="579.4" font-size="11.55" fill="#111" stroke="#111">HEV-LP concentration (fg mL<tspan font-size="7.6" dy="-4.4">−1</tspan><tspan dy="4.4">)</tspan></text>
<text transform="translate(347.2,470.4) rotate(-90)" font-size="11.4" fill="#111" stroke="#111">% Change in R<tspan font-size="7.4" dy="2.6">ct</tspan></text>
<rect x="405.8" y="320.30" width="23" height="11.2" fill="#0000f5" stroke="#333" stroke-width="0.7"/>
<text x="436.0" y="329.70" font-size="9.5" fill="#111">0 V</text>
<rect x="405.8" y="333.40" width="23" height="11.2" fill="#00b400" stroke="#333" stroke-width="0.7"/>
<text x="433.6" y="342.80" font-size="9.5" fill="#111">+0.8 V</text>
<rect x="405.8" y="346.50" width="23" height="11.2" fill="#fcc896" stroke="#333" stroke-width="0.7"/>
<text x="433.6" y="355.90" font-size="9.5" fill="#111">+1.2 V</text>
</svg></body></html>
